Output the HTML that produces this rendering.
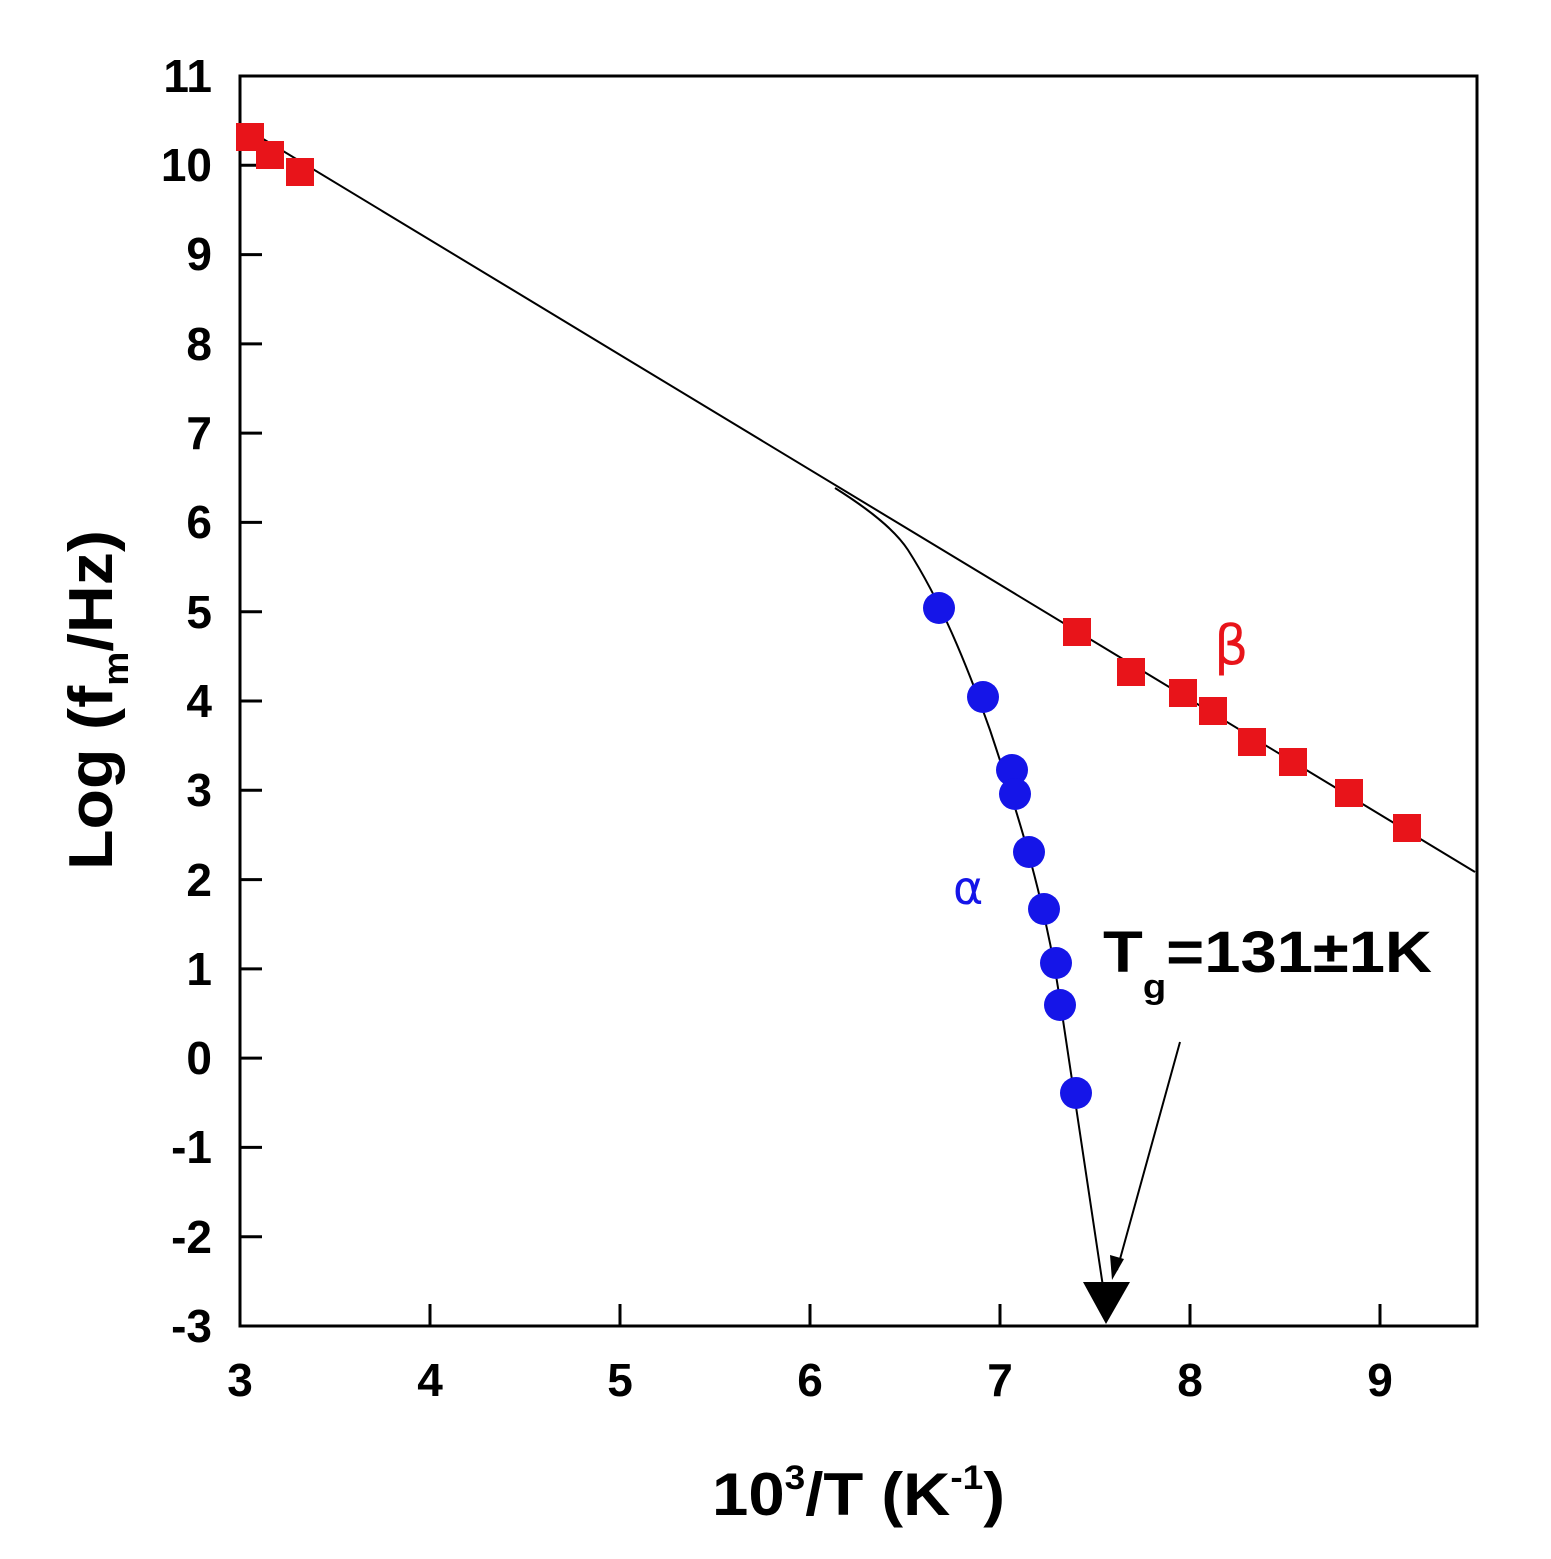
<!DOCTYPE html>
<html><head><meta charset="utf-8"><style>html,body{margin:0;padding:0;background:#fff}</style></head>
<body>
<svg width="1551" height="1554" viewBox="0 0 1551 1554" xmlns="http://www.w3.org/2000/svg" font-family="Liberation Sans, Arial, sans-serif">
<rect width="1551" height="1554" fill="#fff"/>
<rect x="240" y="76" width="1237" height="1250" fill="none" stroke="#000" stroke-width="3"/>
<g stroke="#000" stroke-width="3">
<line x1="240" y1="76" x2="262" y2="76"/><line x1="240" y1="165.3" x2="262" y2="165.3"/>
<line x1="240" y1="254.6" x2="262" y2="254.6"/><line x1="240" y1="343.9" x2="262" y2="343.9"/>
<line x1="240" y1="433.1" x2="262" y2="433.1"/><line x1="240" y1="522.4" x2="262" y2="522.4"/>
<line x1="240" y1="611.7" x2="262" y2="611.7"/><line x1="240" y1="701" x2="262" y2="701"/>
<line x1="240" y1="790.3" x2="262" y2="790.3"/><line x1="240" y1="879.6" x2="262" y2="879.6"/>
<line x1="240" y1="968.9" x2="262" y2="968.9"/><line x1="240" y1="1058.1" x2="262" y2="1058.1"/>
<line x1="240" y1="1147.4" x2="262" y2="1147.4"/><line x1="240" y1="1236.7" x2="262" y2="1236.7"/>
<line x1="430" y1="1326" x2="430" y2="1304"/><line x1="620" y1="1326" x2="620" y2="1304"/>
<line x1="810" y1="1326" x2="810" y2="1304"/><line x1="1000" y1="1326" x2="1000" y2="1304"/>
<line x1="1190" y1="1326" x2="1190" y2="1304"/><line x1="1380" y1="1326" x2="1380" y2="1304"/>
</g>
<g font-size="46" font-weight="bold" text-anchor="end">
<text x="212" y="92">11</text><text x="212" y="181">10</text><text x="212" y="270">9</text>
<text x="212" y="360">8</text><text x="212" y="449">7</text><text x="212" y="538">6</text>
<text x="212" y="628">5</text><text x="212" y="717">4</text><text x="212" y="806">3</text>
<text x="212" y="896">2</text><text x="212" y="985">1</text><text x="212" y="1074">0</text>
<text x="212" y="1163">-1</text><text x="212" y="1253">-2</text><text x="212" y="1342">-3</text>
</g>
<g font-size="46" font-weight="bold" text-anchor="middle">
<text x="240" y="1396">3</text><text x="430" y="1396">4</text><text x="620" y="1396">5</text>
<text x="810" y="1396">6</text><text x="1000" y="1396">7</text><text x="1190" y="1396">8</text><text x="1380" y="1396">9</text>
</g>
<text x="712" y="1515" font-size="60" font-weight="bold" textLength="293" lengthAdjust="spacingAndGlyphs">10<tspan font-size="34" dy="-26">3</tspan><tspan dy="26">/T (K</tspan><tspan font-size="34" dy="-26">-1</tspan><tspan dy="26">)</tspan></text>
<text transform="translate(112,870) rotate(-90)" font-size="62" font-weight="bold" textLength="340" lengthAdjust="spacingAndGlyphs">Log (f<tspan font-size="36" dy="16">m</tspan><tspan dy="-16">/Hz)</tspan></text>
<line x1="240" y1="125" x2="1475" y2="872" stroke="#000" stroke-width="2"/>
<path d="M835,488 C870,510 895,530 908,550 C940,600 965,660 990,730 C1020,820 1045,900 1060,1000 C1075,1100 1090,1200 1105,1300" fill="none" stroke="#000" stroke-width="2"/>
<polygon points="1083,1282 1130,1282 1106,1324" fill="#000"/>
<line x1="1180" y1="1042" x2="1117" y2="1270" stroke="#000" stroke-width="2"/>
<polygon points="1112,1280 1110,1255 1124,1259" fill="#000"/>
<g fill="#e8141a">
<rect x="236" y="123" width="28" height="28"/><rect x="256" y="141" width="28" height="28"/><rect x="286" y="158" width="28" height="28"/>
<rect x="1063" y="618" width="28" height="28"/><rect x="1117" y="658" width="28" height="28"/><rect x="1169" y="679" width="28" height="28"/>
<rect x="1199" y="697" width="28" height="28"/><rect x="1238" y="728" width="28" height="28"/><rect x="1279" y="748" width="28" height="28"/>
<rect x="1335" y="779" width="28" height="28"/><rect x="1393" y="814" width="28" height="28"/>
</g>
<g fill="#1515e8">
<circle cx="939" cy="608" r="16"/><circle cx="983" cy="697" r="16"/><circle cx="1012" cy="770" r="16"/>
<circle cx="1015" cy="794" r="16"/><circle cx="1029" cy="852" r="16"/><circle cx="1044" cy="909" r="16"/>
<circle cx="1056" cy="963" r="16"/><circle cx="1060" cy="1005" r="16"/><circle cx="1076" cy="1093" r="16"/>
</g>
<text x="1214" y="664" font-size="54" fill="#e8141a" font-family="DejaVu Sans, sans-serif">β</text>
<text x="953" y="904" font-size="46" fill="#1515e8" font-family="DejaVu Sans, sans-serif">α</text>
<text x="1103" y="972" font-size="58" font-weight="bold" textLength="329" lengthAdjust="spacingAndGlyphs">T<tspan font-size="34" dy="26">g</tspan><tspan dy="-26">=131±1K</tspan></text>
</svg>
</body></html>
